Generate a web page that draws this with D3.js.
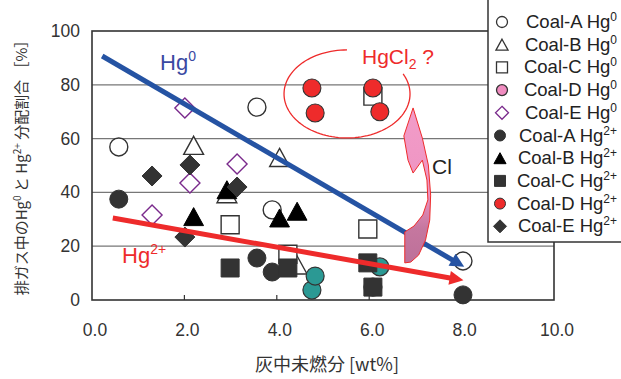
<!DOCTYPE html>
<html><head><meta charset="utf-8">
<script src="https://cdn.jsdelivr.net/npm/d3@7"></script>
<style>
html,body{margin:0;padding:0;background:#fff;}
svg{display:block;}
text{font-family:"Liberation Sans",Arial,sans-serif;}
</style></head>
<body>
<script>
// ---- data ----
const xTicks = [0, 2, 4, 6, 8, 10];
const xTickLabels = ["0.0", "2.0", "4.0", "6.0", "8.0", "10.0"];
const yTicks = [0, 20, 40, 60, 80, 100];
const yTickLabels = ["0", "20", "40", "60", "80", "100"];

const coalA_x   = [0.58, 3.57, 3.90, 8.03];
const coalA_hg0 = [56.9, 71.7, 33.5, 14.5];
const coalA_hg2 = [37.5, 15.6, 10.4, 1.9];

const coalB_x   = [2.20, 2.92, 4.06, 4.44];
const coalB_hg0 = [57.5, 39.5, 53.0, 13.0];
const coalB_hg2 = [31.0, 41.0, 30.5, 33.0];

const coalC_x   = [2.99, 4.24, 5.97, 6.08];
const coalC_hg0 = [28.0, 17.0, 26.4, 75.8];
const coalC_hg2 = [11.9, 11.9, 13.8, 4.8];

const coalD_x   = [4.76, 4.83, 6.08, 6.23];
const coalD_hg0 = [3.7, 8.9, 4.8, 12.3];
const coalD_hg2 = [78.8, 69.5, 78.8, 70.0];

const coalE_x   = [1.30, 2.01, 2.12, 3.14];
const coalE_hg0 = [31.6, 71.4, 43.5, 50.6];
const coalE_hg2 = [46.1, 23.4, 50.2, 42.0];

const legendLabels = ["Coal-A", "Coal-B", "Coal-C", "Coal-D", "Coal-E"];

// trend arrows (data units)
const hg0Trend = [[0.22, 90.7], [8.03, 12.6]];
const hg2Trend = [[0.45, 30.5], [8.01, 7.4]];

// ---- layout ----
const W = 621, H = 379;
const x = d3.scaleLinear().domain([0, 10]).range([92, 554]);
const y = d3.scaleLinear().domain([0, 100]).range([300, 31]);

const svg = d3.select("body").append("svg").attr("width", W).attr("height", H);
const defs = svg.append("defs");

// gridlines
svg.append("g").selectAll("line").data(yTicks.filter(t => t > 0 && t < 100)).join("line")
  .attr("x1", x(0)).attr("x2", x(10)).attr("y1", d => y(d)).attr("y2", d => y(d))
  .attr("stroke", "#777").attr("stroke-width", 1.3);

// frame
svg.append("rect").attr("x", x(0)).attr("y", y(100)).attr("width", x(10) - x(0)).attr("height", y(0) - y(100))
  .attr("fill", "none").attr("stroke", "#333").attr("stroke-width", 1.6);

// x ticks (inside)
svg.append("g").selectAll("line").data(xTicks.filter(t => t > 0 && t < 10)).join("line")
  .attr("x1", d => x(d)).attr("x2", d => x(d)).attr("y1", y(0)).attr("y2", y(0) - 5)
  .attr("stroke", "#333").attr("stroke-width", 1.2);

// tick labels
svg.append("g").selectAll("text").data(xTicks).join("text")
  .attr("x", d => x(d) + 3).attr("y", 336).attr("text-anchor", "middle")
  .attr("font-size", 17.5).attr("fill", "#333").text((d, i) => xTickLabels[i]);
svg.append("g").selectAll("text").data(yTicks).join("text")
  .attr("x", 80).attr("y", d => y(d) + 6).attr("text-anchor", "end")
  .attr("font-size", 17.5).attr("fill", "#333").text((d, i) => yTickLabels[i]);

// axis titles
svg.append("text").attr("x", 327).attr("y", 371).attr("text-anchor", "middle")
  .attr("font-size", 18).attr("fill", "#333").style("font-family", "'Noto Sans CJK JP',sans-serif")
  .text("灰中未燃分 [wt%]");
const yt = svg.append("text").attr("transform", "translate(27,164) rotate(-90)").attr("text-anchor", "middle")
  .attr("font-size", 15).attr("fill", "#333").style("font-family", "'Noto Sans CJK JP',sans-serif");
yt.append("tspan").text("排ガス中のHg");
yt.append("tspan").attr("font-size", 10).attr("dy", -6).text("0");
yt.append("tspan").attr("dy", 6).text(" と Hg");
yt.append("tspan").attr("font-size", 10).attr("dy", -6).text("2+");
yt.append("tspan").attr("dy", 6).text(" 分配割合 ［%］");

// ---- marker shapes ----
function shapePath(kind, s) {
  if (kind === "circle") return d3.arc()({innerRadius: 0, outerRadius: s, startAngle: 0, endAngle: 2 * Math.PI});
  if (kind === "triangle") { const w = s * 1.1, h = s; return `M0,${-h}L${w},${h}L${-w},${h}Z`; }
  if (kind === "square") return `M${-s},${-s}H${s}V${s}H${-s}Z`;
  if (kind === "diamond") return `M0,${-s}L${s},0L0,${s}L${-s},0Z`;
}

const series = [
  {xs: coalA_x, ys: coalA_hg0, kind: "circle", size: 9, fill: "#fff", stroke: "#333", sw: 1.4, lfill: "#fff"},
  {xs: coalB_x, ys: coalB_hg0, kind: "triangle", size: 9, fill: "#fff", stroke: "#333", sw: 1.4, lfill: "#fff"},
  {xs: coalC_x, ys: coalC_hg0, kind: "square", size: 9, fill: "#fff", stroke: "#333", sw: 1.4, lfill: "#fff"},
  {xs: coalD_x, ys: coalD_hg0, kind: "circle", size: 9, fill: "#2b9994", stroke: "#333", sw: 1.2, lfill: "#f08cc0"},
  {xs: coalE_x, ys: coalE_hg0, kind: "diamond", size: 10, fill: "#fff", stroke: "#7a2a8c", sw: 1.4, lfill: "#fff"},
  {xs: coalA_x, ys: coalA_hg2, kind: "circle", size: 9, fill: "#333", stroke: "#333", sw: 1, lfill: "#333"},
  {xs: coalB_x, ys: coalB_hg2, kind: "triangle", size: 9, fill: "#000", stroke: "#000", sw: 1, lfill: "#000"},
  {xs: coalC_x, ys: coalC_hg2, kind: "square", size: 9, fill: "#333", stroke: "#333", sw: 1, lfill: "#333"},
  {xs: coalD_x, ys: coalD_hg2, kind: "circle", size: 9, fill: "#ee2b2b", stroke: "#333", sw: 1.1, lfill: "#ee2b2b"},
  {xs: coalE_x, ys: coalE_hg2, kind: "diamond", size: 10, fill: "#333", stroke: "#333", sw: 1, lfill: "#333"}
];

const gPts = svg.append("g");
series.forEach(s => {
  gPts.append("g").selectAll("path").data(s.xs.map((v, i) => [v, s.ys[i]])).join("path")
    .attr("transform", d => `translate(${x(d[0])},${y(d[1])})`)
    .attr("d", shapePath(s.kind, s.size))
    .attr("fill", s.fill).attr("stroke", s.stroke).attr("stroke-width", s.sw);
});

// ---- trend arrows ----
function arrowMarker(id, color) {
  defs.append("marker").attr("id", id).attr("viewBox", "0 0 10 10").attr("refX", 9).attr("refY", 5)
    .attr("markerUnits", "userSpaceOnUse").attr("markerWidth", 17).attr("markerHeight", 14).attr("orient", "auto")
    .append("path").attr("d", "M0,0L10,5L0,10Z").attr("fill", color);
}
arrowMarker("arrBlue", "#2553a3");
arrowMarker("arrRed", "#ee2b2b");
function trendLine(pts, color, id) {
  const [a, b] = pts;
  const ax = x(a[0]), ay = y(a[1]), bx = x(b[0]), by = y(b[1]);
  const L = Math.hypot(bx - ax, by - ay);
  const ex = bx - (bx - ax) / L * 8, ey = by - (by - ay) / L * 8;
  svg.append("line").attr("x1", ax).attr("y1", ay).attr("x2", ex).attr("y2", ey)
    .attr("stroke", color).attr("stroke-width", 5);
  svg.append("line").attr("x1", ex).attr("y1", ey).attr("x2", bx).attr("y2", by)
    .attr("stroke", color).attr("stroke-width", 0.1).attr("marker-end", `url(#${id})`);
}
trendLine(hg0Trend, "#2553a3", "arrBlue");
trendLine(hg2Trend, "#ee2b2b", "arrRed");

// ---- HgCl2 ellipse (gap at upper right) ----
const ec = [5.52, 76.6], erx = 63, ery = 44;
const t0 = -27 * Math.PI / 180, t1 = 270 * Math.PI / 180;
const ePts = d3.range(0, 101).map(i => {
  const t = t0 + (t1 - t0) * i / 100;
  return [x(ec[0]) + erx * Math.cos(t), y(ec[1]) + ery * Math.sin(t)];
});
svg.append("path").attr("d", d3.line()(ePts)).attr("fill", "none").attr("stroke", "#ee2b2b").attr("stroke-width", 1.3);

// ---- pink curved arrow (Cl) ----
const grad = defs.append("linearGradient").attr("id", "pinkGrad").attr("x1", 0).attr("y1", 0).attr("x2", 0).attr("y2", 1);
grad.append("stop").attr("offset", "0%").attr("stop-color", "#f29cc8");
grad.append("stop").attr("offset", "55%").attr("stop-color", "#ee94c2");
grad.append("stop").attr("offset", "78%").attr("stop-color", "#c5779f");
grad.append("stop").attr("offset", "100%").attr("stop-color", "#bd7099");
const clArrow = [
  [6.95, 71.4], [6.75, 61.0], [6.84, 52.0], [6.95, 47.2],
  [7.15, 52.0], [7.25, 44.6], [7.27, 37.2], [7.16, 31.6], [6.97, 27.5], [6.77, 25.3],
  [6.77, 13.8], [6.90, 14.1], [7.07, 16.7], [7.22, 22.3], [7.31, 29.7], [7.33, 39.0],
  [7.28, 50.2], [7.15, 60.2]
];
svg.append("path")
  .attr("d", d3.line().curve(d3.curveLinearClosed)(clArrow.map(p => [x(p[0]), y(p[1])])))
  .attr("fill", "url(#pinkGrad)").attr("stroke", "#ee2b2b").attr("stroke-width", 1);

// ---- annotation texts ----
const tHg0 = svg.append("text").attr("x", 160).attr("y", 70).attr("font-size", 22).attr("fill", "#3a49a2");
tHg0.append("tspan").text("Hg");
tHg0.append("tspan").attr("font-size", 14).attr("dy", -9).text("0");
const tHg2 = svg.append("text").attr("x", 122).attr("y", 263).attr("font-size", 22).attr("fill", "#ee2b2b");
tHg2.append("tspan").text("Hg");
tHg2.append("tspan").attr("font-size", 14).attr("dy", -9).text("2+");
const tCl2 = svg.append("text").attr("x", 362).attr("y", 64).attr("font-size", 21).attr("fill", "#ee2b2b");
tCl2.append("tspan").text("HgCl");
tCl2.append("tspan").attr("font-size", 14).attr("dy", 5).text("2");
tCl2.append("tspan").attr("dy", -5).text(" ?");
svg.append("text").attr("x", 432).attr("y", 174).attr("font-size", 21).attr("fill", "#222").text("Cl");

// ---- legend ----
const lg = svg.append("g");
lg.append("rect").attr("x", 488).attr("y", -2).attr("width", 140).attr("height", 244)
  .attr("fill", "#fff").attr("stroke", "#333").attr("stroke-width", 1.5);
series.forEach((s, i) => {
  const cy = 22 + i * 22.7;
  const isHg0 = i < 5;
  lg.append("path").attr("transform", `translate(${isHg0 ? 502 : 500},${cy})`)
    .attr("d", shapePath(s.kind, s.kind === "diamond" ? 6.5 : 5.5))
    .attr("fill", s.lfill).attr("stroke", s.stroke).attr("stroke-width", isHg0 ? 1.3 : 1);
  const t = lg.append("text").attr("x", 617).attr("y", cy + 6).attr("text-anchor", "end")
    .attr("font-size", 18.5).attr("fill", "#222");
  t.append("tspan").text(legendLabels[i % 5] + " Hg");
  t.append("tspan").attr("font-size", 12).attr("dy", -7).text(isHg0 ? "0" : "2+");
});
</script>
</body></html>
